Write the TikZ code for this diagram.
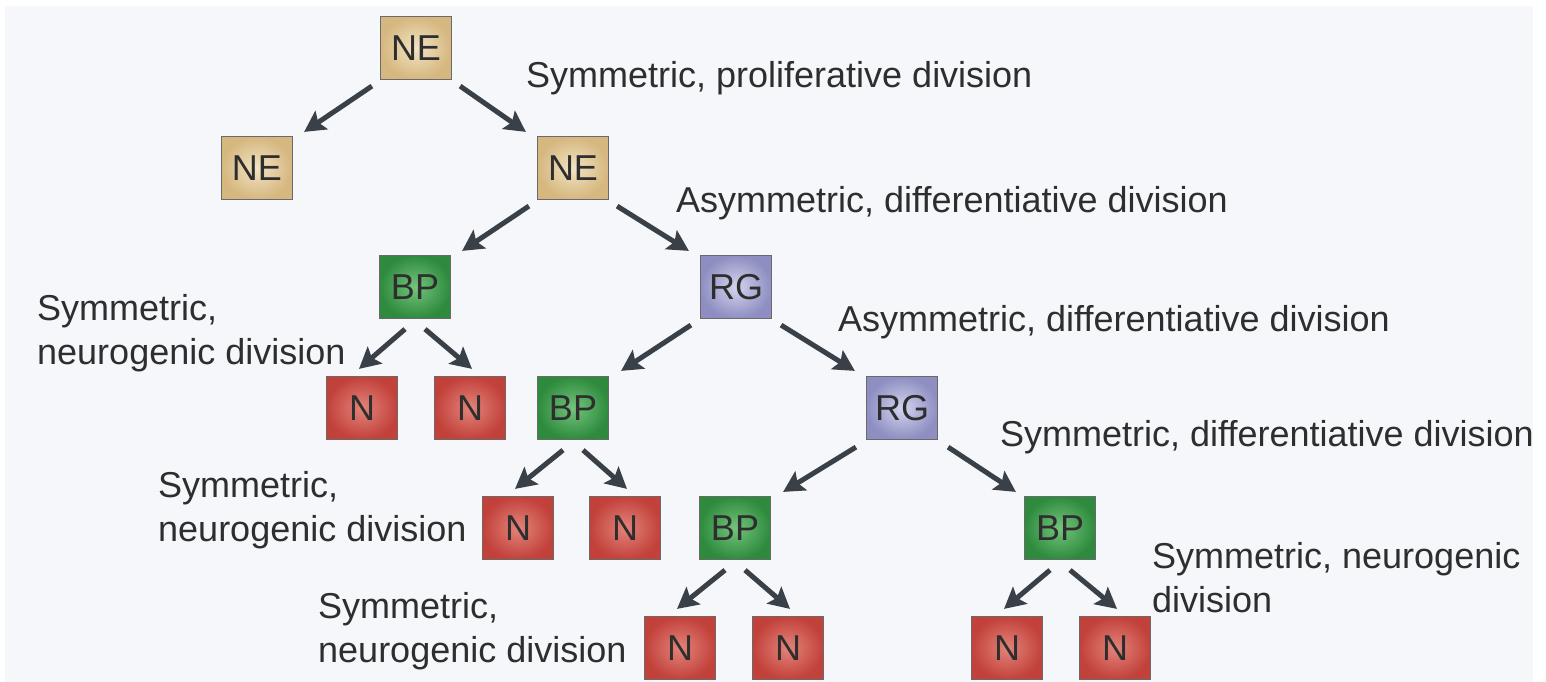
\documentclass[tikz,border=0pt]{standalone}
\usepackage{fontspec}
\setmainfont{Liberation Sans}
\usetikzlibrary{arrows.meta}
\definecolor{panel}{HTML}{F5F7FA}
\definecolor{txt}{HTML}{2E2E2E}
\definecolor{arrc}{HTML}{3A4048}
\definecolor{boxline}{HTML}{6A6A6A}
\definecolor{neOut}{HTML}{D5B77F}
\definecolor{neIn}{HTML}{F2E3C3}
\definecolor{bpOut}{HTML}{2E8B3E}
\definecolor{bpIn}{HTML}{74C47C}
\definecolor{rgOut}{HTML}{8E8EC2}
\definecolor{rgIn}{HTML}{D4D4EE}
\definecolor{nOut}{HTML}{C2413B}
\definecolor{nIn}{HTML}{E2847A}
\tikzset{
  box/.style={draw=boxline, line width=1.2pt, minimum width=71pt, minimum height=63pt,
    inner sep=0pt, font=\fontsize{36}{36}\selectfont, text=txt},
  ne/.style={box, inner color=neIn, outer color=neOut},
  bp/.style={box, inner color=bpIn, outer color=bpOut},
  rg/.style={box, inner color=rgIn, outer color=rgOut},
  nn/.style={box, inner color=nIn, outer color=nOut},
  lbl/.style={font=\fontsize{36}{44}\selectfont, text=txt, inner sep=0pt, align=left},
  arr/.style={draw=arrc, line width=5pt, -{Stealth[length=21pt,width=22pt,inset=4pt]}}
}
\begin{document}
\begin{tikzpicture}[x=1pt,y=-1pt]
\fill[white] (0,0) rectangle (1546,682);
\useasboundingbox (0,0) rectangle (1546,682);
\fill[panel] (5,6) rectangle (1533,682);

% cells
\node[ne] (ne0) at (416,48) {NE};
\node[ne] (ne1) at (257,168) {NE};
\node[ne] (ne2) at (573,168) {NE};
\node[bp] (bp1) at (415,287) {BP};
\node[rg] (rg1) at (736,287) {RG};
\node[nn] (n1) at (362,408) {N};
\node[nn] (n2) at (470,408) {N};
\node[bp] (bp2) at (573,408) {BP};
\node[rg] (rg2) at (902,408) {RG};
\node[nn] (n3) at (518,528) {N};
\node[nn] (n4) at (625,528) {N};
\node[bp] (bp3) at (735,528) {BP};
\node[bp] (bp4) at (1060,528) {BP};
\node[nn] (n5) at (680,648) {N};
\node[nn] (n6) at (788,648) {N};
\node[nn] (n7) at (1007,648) {N};
\node[nn] (n8) at (1115,648) {N};

% labels
\begin{scope}
\clip (5,6) rectangle (1533,682);
\node[lbl, anchor=base west] (l0) at (526,88) {Symmetric, proliferative division};
\node[lbl, anchor=base west] (l1) at (676,212) {Asymmetric, differentiative division};
\node[lbl, anchor=base west] (l2) at (838,331) {Asymmetric, differentiative division};
\node[lbl, anchor=base west] (l3) at (1000,446) {Symmetric, differentiative division};
\node[lbl, anchor=base west] (m1) at (37,364) {Symmetric,\\neurogenic division};
\node[lbl, anchor=base west] (m2) at (158,541) {Symmetric,\\neurogenic division};
\node[lbl, anchor=base west] (m3) at (318,662) {Symmetric,\\neurogenic division};
\node[lbl, anchor=base west] (m4) at (1152,612) {Symmetric, neurogenic\\division};
\end{scope}

% corner arrows
\draw[arr] ([shift={(-8,6)}]ne0.south west) -- ([shift={(11,-4)}]ne1.north east);
\draw[arr] ([shift={(8,6)}]ne0.south east) -- ([shift={(-11,-4)}]ne2.north west);
\draw[arr] ([shift={(-8,6)}]ne2.south west) -- ([shift={(11,-4)}]bp1.north east);
\draw[arr] ([shift={(8,6)}]ne2.south east) -- ([shift={(-11,-4)}]rg1.north west);
\draw[arr] ([shift={(-9,6)}]rg1.south west) -- ([shift={(12,-5)}]bp2.north east);
\draw[arr] ([shift={(9,6)}]rg1.south east) -- ([shift={(-11,-5)}]rg2.north west);
\draw[arr] ([shift={(-10,7)}]rg2.south west) -- ([shift={(12,-4)}]bp3.north east);
\draw[arr] ([shift={(10,7)}]rg2.south east) -- ([shift={(-8,-4)}]bp4.north west);

% neurogenic arrows
\draw[arr] ([shift={(-10,10)}]bp1.south) -- ([shift={(-3,-7)}]n1.north);
\draw[arr] ([shift={(10,10)}]bp1.south) -- ([shift={(2,-7)}]n2.north);
\draw[arr] ([shift={(-10,10)}]bp2.south) -- ([shift={(-3,-7)}]n3.north);
\draw[arr] ([shift={(10,10)}]bp2.south) -- ([shift={(2,-7)}]n4.north);
\draw[arr] ([shift={(-10,10)}]bp3.south) -- ([shift={(-3,-7)}]n5.north);
\draw[arr] ([shift={(10,10)}]bp3.south) -- ([shift={(2,-7)}]n6.north);
\draw[arr] ([shift={(-10,10)}]bp4.south) -- ([shift={(-3,-7)}]n7.north);
\draw[arr] ([shift={(10,10)}]bp4.south) -- ([shift={(2,-7)}]n8.north);
\end{tikzpicture}
\end{document}
